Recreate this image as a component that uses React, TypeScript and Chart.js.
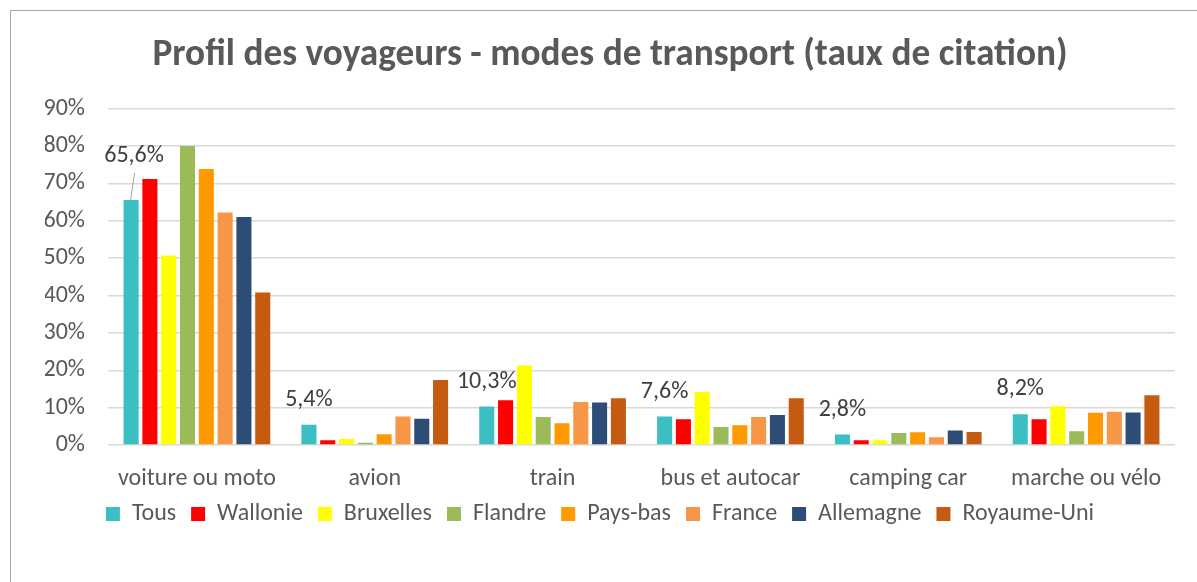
import React, { useEffect, useRef } from "react";
import { Chart, registerables } from "chart.js";

Chart.register(...registerables);

const FONT = "Carlito, Calibri, Lato, sans-serif";

const titleText = "Profil des voyageurs - modes de transport (taux de citation)";
const categories = ["voiture ou moto", "avion", "train", "bus et autocar", "camping car", "marche ou vélo"];
const seriesNames = ["Tous", "Wallonie", "Bruxelles", "Flandre", "Pays-bas", "France", "Allemagne", "Royaume-Uni"];

const tous = [65.6, 5.4, 10.3, 7.6, 2.8, 8.2];
const wallonie = [71.2, 1.3, 12.0, 6.9, 1.3, 6.9];
const bruxelles = [50.7, 1.6, 21.3, 14.2, 1.3, 10.4];
const flandre = [80.0, 0.6, 7.5, 4.8, 3.2, 3.7];
const paysBas = [73.9, 2.9, 5.8, 5.3, 3.4, 8.6];
const france = [62.2, 7.6, 11.5, 7.5, 2.1, 8.9];
const allemagne = [61.0, 7.0, 11.4, 8.0, 3.9, 8.7];
const royaumeUni = [40.8, 17.4, 12.5, 12.5, 3.5, 13.3];

const seriesValues = [tous, wallonie, bruxelles, flandre, paysBas, france, allemagne, royaumeUni];
const seriesColors = ["#3BBFC2", "#FF0000", "#FFFF00", "#9BBB59", "#FF9900", "#F79646", "#2C4D75", "#C55A11"];

const yMin = 0;
const yMax = 90;
const yStep = 10;

const fmt = (v: number) => v.toFixed(1).replace(".", ",") + "%";

const tousLabels = {
  id: "tousLabels",
  afterDatasetsDraw(chart: any) {
    const meta = chart.getDatasetMeta(0);
    const ctx = chart.ctx;
    ctx.save();
    ctx.font = `24px ${FONT}`;
    ctx.fillStyle = "#404040";
    ctx.textAlign = "center";
    ctx.textBaseline = "middle";
    meta.data.forEach((el: any, i: number) => {
      const txt = fmt(tous[i]);
      if (i === 0) {
        ctx.strokeStyle = "#a6a6a6";
        ctx.lineWidth = 1;
        ctx.beginPath();
        ctx.moveTo(el.x - 0.5, el.y);
        ctx.lineTo(el.x + 3.5, el.y - 27);
        ctx.stroke();
        ctx.fillText(txt, el.x + 3, el.y - 44);
      } else {
        ctx.fillText(txt, el.x, el.y - 25);
      }
    });
    ctx.restore();
  },
};

const legendShift = {
  id: "legendShift",
  afterLayout(chart: any) {
    if (chart.legend) {
      chart.legend.left -= 10;
      chart.legend.right -= 10;
      chart.legend.top -= 8;
      chart.legend.bottom -= 8;
    }
  },
};

export default function App() {
  const ref = useRef<HTMLCanvasElement | null>(null);

  useEffect(() => {
    if (!ref.current) return;
    const chart = new Chart(ref.current, {
      type: "bar",
      data: {
        labels: categories,
        datasets: seriesNames.map((name, i) => ({
          label: name,
          data: seriesValues[i],
          backgroundColor: seriesColors[i],
          borderWidth: 0,
          categoryPercentage: 0.846,
          barPercentage: 0.8,
        })),
      },
      options: {
        responsive: false,
        animation: false,
        layout: { padding: { top: 0, left: 45, right: 22, bottom: 38 } },
        plugins: {
          title: {
            display: true,
            text: titleText,
            color: "#595959",
            font: { family: FONT, size: 37.3, weight: "bold" },
            padding: { top: 33, bottom: 31 },
          },
          legend: {
            position: "bottom",
            labels: {
              boxWidth: 14,
              boxHeight: 14,
              padding: 15,
              color: "#595959",
              font: { family: FONT, size: 24 },
            },
          },
          tooltip: { enabled: false },
        },
        scales: {
          x: {
            grid: { display: false, drawTicks: false },
            border: { display: false },
            ticks: {
              color: "#595959",
              font: { family: FONT, size: 24 },
              padding: 20,
              maxRotation: 0,
              autoSkip: false,
            },
            afterFit: (scale: any) => {
              scale.height = 50;
            },
          },
          y: {
            min: yMin,
            max: yMax,
            ticks: {
              stepSize: yStep,
              callback: (v: any) => v + "%",
              color: "#595959",
              font: { family: FONT, size: 24 },
              padding: 23,
            },
            grid: { color: "#d9d9d9", lineWidth: 1.5, drawTicks: false },
            border: { display: false },
            afterFit: (scale: any) => {
              scale.width = 63;
            },
          },
        },
      },
      plugins: [tousLabels, legendShift],
    } as any);
    return () => chart.destroy();
  }, []);

  return (
    <div style={{ position: "fixed", left: 0, top: 0, width: 1197, height: 582, background: "#fff" }}>
      <div
        style={{
          position: "absolute",
          left: 10,
          top: 10,
          width: 1187,
          height: 572,
          borderLeft: "1px solid #a6a6a6",
          borderTop: "1px solid #a6a6a6",
        }}
      />
      <canvas ref={ref} width={1197} height={582} style={{ position: "absolute", left: 0, top: 0 }} />
    </div>
  );
}
